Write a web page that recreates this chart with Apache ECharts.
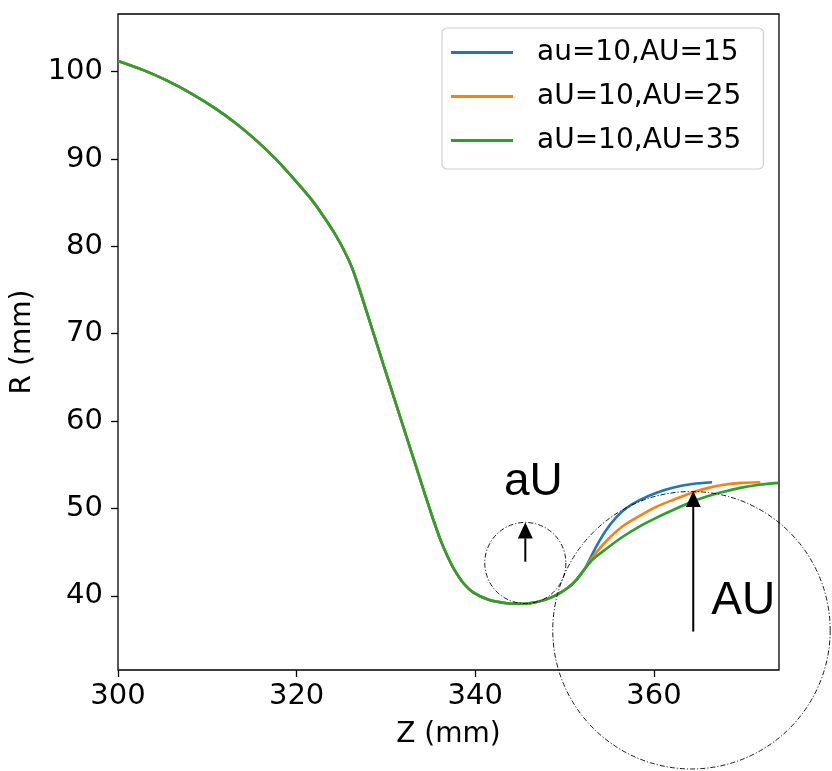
<!DOCTYPE html>
<html>
<head>
<meta charset="utf-8">
<script src="https://cdn.jsdelivr.net/npm/echarts@6/dist/echarts.min.js"></script>
<style>
html,body{margin:0;padding:0;background:#fff;}
#chart{width:832px;height:771px;}
</style>
</head>
<body>
<div id="chart"></div>
<script>
// Wall profile shared by all three cases (Z, R in mm)
const zBase = [300, 302.84, 305.61, 308.27, 310.84, 313.29, 315.60, 317.78, 319.81, 321.69,
  323.0, 324.3, 325.3, 326.2, 326.8, 327.5, 328.4, 329.7, 331.0, 332.3,
  333.4, 334.4, 335.3, 336.1, 336.9, 337.7, 338.7, 339.8, 341.5, 343.5,
  344.8, 346.1, 347.7, 349.1, 350.4, 351.3, 352.2];
const rBase = [101.22, 100.17, 98.91, 97.46, 95.82, 94.01, 92.02, 89.87, 87.58, 85.32,
  83.45, 81.4, 79.55, 77.55, 75.8, 73.6, 70.7, 66.5, 62.35, 58.2,
  54.7, 51.5, 48.7, 46.4, 44.5, 42.9, 41.4, 40.35, 39.55, 39.15,
  39.08, 39.15, 39.5, 40.1, 40.95, 41.8, 43.0];

// Branches after the split point, one per upper-radius case
const zTail15 = [352.9, 353.6, 354.6, 355.8, 357.0, 358.5, 360.3, 362.2, 364.3, 366.5];
const rTail15 = [44.35, 45.75, 47.45, 49.0, 50.1, 51.0, 51.8, 52.4, 52.8, 53.0];
const zTail25 = [353.2, 354.7, 356.5, 358.5, 360.3, 362.2, 364.4, 366.1, 367.8, 369.8, 371.9];
const rTail25 = [44.5, 46.3, 47.95, 49.2, 50.2, 51.0, 51.85, 52.35, 52.7, 52.92, 53.0];
const zTail35 = [353.2, 354.7, 356.5, 358.5, 360.3, 362.2, 364.0, 365.9, 367.8, 369.65, 371.8, 373.9];
const rTail35 = [44.2, 45.4, 46.75, 48.0, 48.95, 49.85, 50.65, 51.35, 51.9, 52.35, 52.7, 52.92];

const seriesNames = ['au=10,AU=15', 'aU=10,AU=25', 'aU=10,AU=35'];
const seriesColors = ['#1f77b4', '#ff7f0e', '#2ca02c'];
const zTicks = [300, 320, 340, 360];
const rTicks = [40, 50, 60, 70, 80, 90, 100];

// Dash-dot circles marking the two rounding radii (centre Z, centre R, radius in Z units)
const circleZ = [345.6, 364.2];
const circleR = [43.75, 36.05];
const circleRadius = [4.54, 15.53];
// Vertical arrows from each circle centre to its top
const arrowZ = [345.6, 364.4];
const arrowFrom = [43.9, 35.9];
const arrowTo = [48.4, 52.0];
// Annotation labels
const labelText = ['aU', 'AU'];
const labelZ = [346.5, 370.0];
const labelR = [53.0, 39.35];

function pairs(zs, rs) {
  return zs.map((z, i) => [z, rs[i]]);
}
const tails = [[zTail15, rTail15], [zTail25, rTail25], [zTail35, rTail35]];

const lineSeries = seriesNames.map((name, i) => ({
  name: name,
  type: 'line',
  data: pairs(zBase, rBase).concat(pairs(tails[i][0], tails[i][1])),
  symbol: 'none',
  smooth: 0.3,
  color: seriesColors[i],
  lineStyle: { width: 2.6, color: seriesColors[i] },
  z: 2 + i
}));

function renderAnnotations(params, api) {
  const children = [];
  for (let i = 0; i < circleZ.length; i++) {
    const c = api.coord([circleZ[i], circleR[i]]);
    const rad = api.size([circleRadius[i], 0])[0];
    children.push({
      type: 'circle',
      shape: { cx: c[0], cy: c[1], r: rad },
      style: { fill: 'none', stroke: '#000', lineWidth: 0.9, lineDash: [5, 2, 1.2, 2] }
    });
  }
  const headLen = 16, headHalf = 7.5;
  for (let i = 0; i < arrowZ.length; i++) {
    const p0 = api.coord([arrowZ[i], arrowFrom[i]]);
    const p1 = api.coord([arrowZ[i], arrowTo[i]]);
    children.push({
      type: 'line',
      shape: { x1: p0[0], y1: p0[1], x2: p1[0], y2: p1[1] + headLen },
      style: { stroke: '#000', lineWidth: 2 }
    });
    children.push({
      type: 'polygon',
      shape: { points: [[p1[0], p1[1]], [p1[0] - headHalf, p1[1] + headLen], [p1[0] + headHalf, p1[1] + headLen]] },
      style: { fill: '#000' }
    });
  }
  for (let i = 0; i < labelText.length; i++) {
    const p = api.coord([labelZ[i], labelR[i]]);
    children.push({
      type: 'text',
      x: p[0], y: p[1],
      style: { text: labelText[i], font: '46px "Liberation Sans", Arial, sans-serif', fill: '#000', align: 'center', verticalAlign: 'middle' }
    });
  }
  return { type: 'group', children: children };
}

const chart = echarts.init(document.getElementById('chart'), null, { renderer: 'canvas' });
chart.setOption({
  animation: false,
  backgroundColor: '#fff',
  grid: { left: 118, right: 53, top: 14, bottom: 101, show: true, borderColor: '#000', borderWidth: 1.3, backgroundColor: 'transparent' },
  legend: {
    data: seriesNames,
    orient: 'vertical',
    left: 442, top: 28,
    padding: [10, 22, 14, 9],
    icon: 'rect',
    itemWidth: 62, itemHeight: 3, itemGap: 15,
    backgroundColor: '#fff',
    borderColor: '#d0d0d0', borderWidth: 1.2, borderRadius: 5,
    textStyle: { fontFamily: 'DejaVu Sans', fontSize: 28, color: '#000', lineHeight: 29, padding: [0, 0, 0, 19] }
  },
  xAxis: {
    type: 'value', min: 300, max: 374,
    name: 'Z (mm)', nameLocation: 'middle', nameGap: 51,
    nameTextStyle: { fontFamily: 'DejaVu Sans', fontSize: 28, color: '#000' },
    axisLine: { show: false },
    axisTick: { show: true, length: 7, lineStyle: { color: '#000', width: 1.3 }, customValues: zTicks },
    axisLabel: { fontFamily: 'DejaVu Sans', fontSize: 29, color: '#000', margin: 12, customValues: zTicks },
    splitLine: { show: false }
  },
  yAxis: {
    type: 'value', min: 31.5, max: 106.6,
    name: 'R (mm)', nameLocation: 'middle', nameGap: 78, nameRotate: 90,
    nameTextStyle: { fontFamily: 'DejaVu Sans', fontSize: 28, color: '#000' },
    axisLine: { show: false },
    axisTick: { show: true, length: 7, lineStyle: { color: '#000', width: 1.3 }, customValues: rTicks },
    axisLabel: { fontFamily: 'DejaVu Sans', fontSize: 29, color: '#000', margin: 15, customValues: rTicks },
    splitLine: { show: false }
  },
  series: lineSeries.concat([{
    type: 'custom',
    name: 'annotations',
    clip: false,
    silent: true,
    z: 10,
    data: [[circleZ[0], circleR[0]]],
    renderItem: renderAnnotations
  }])
});
</script>
</body>
</html>
